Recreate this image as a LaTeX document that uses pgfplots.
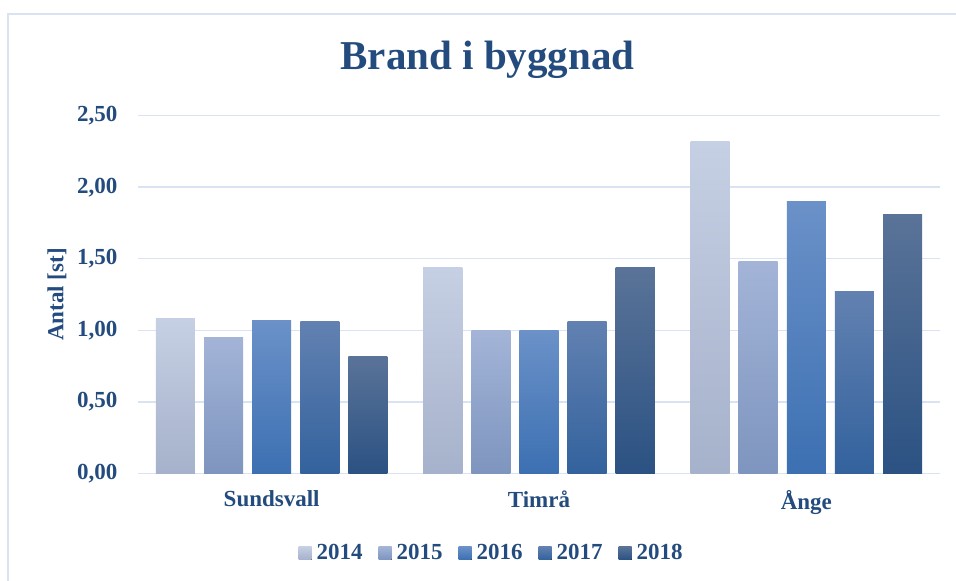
\documentclass[border=0pt]{standalone}
\usepackage{pgfplots}
\pgfplotsset{compat=1.18}
\usepackage{fontspec}
\setmainfont{Liberation Serif}
\definecolor{txt}{RGB}{35,75,125}
\definecolor{gridc}{RGB}{217,227,242}
\definecolor{aT}{RGB}{197,208,228}\definecolor{aM}{RGB}{187,199,223}\definecolor{aB}{RGB}{166,177,203}
\definecolor{bT}{RGB}{163,180,215}\definecolor{bM}{RGB}{147,169,211}\definecolor{bB}{RGB}{126,149,191}
\definecolor{cT}{RGB}{107,145,200}\definecolor{cM}{RGB}{74,130,196}\definecolor{cB}{RGB}{60,112,178}
\definecolor{dT}{RGB}{98,129,177}\definecolor{dM}{RGB}{70,115,172}\definecolor{dB}{RGB}{51,98,157}
\definecolor{eT}{RGB}{90,115,152}\definecolor{eM}{RGB}{63,98,146}\definecolor{eB}{RGB}{43,82,131}
\pgfplotsset{
  gradlegend/.style={legend image code/.code={\fill[##1,draw=none] (0pt,-6.5pt) rectangle (13pt,6.5pt);}},
  barbase/.style={ybar, bar width=0.146, draw=none, forget plot},
  sA/.style={barbase, bar shift=-0.36, top color=aT, middle color=aM, bottom color=aB},
  sB/.style={barbase, bar shift=-0.18, top color=bT, middle color=bM, bottom color=bB},
  sC/.style={barbase, bar shift=0, top color=cT, middle color=cM, bottom color=cB},
  sD/.style={barbase, bar shift=0.18, top color=dT, middle color=dM, bottom color=dB},
  sE/.style={barbase, bar shift=0.36, top color=eT, middle color=eM, bottom color=eB},
}
\begin{document}
\begin{tikzpicture}
\useasboundingbox (0,0) rectangle (956pt,581pt);
\draw[gridc, line width=1.5pt] (8pt,0pt) -- (8pt,567pt) -- (957pt,567pt);
\node[anchor=base, text=txt, font=\fontsize{41}{49}\selectfont\bfseries, inner sep=0pt] at (487.5pt,511pt) {Brand i byggnad};
\begin{axis}[
  scale only axis, width=802pt, height=357.6pt,
  at={(138pt,107.7pt)}, anchor=south west,
  xmin=-0.5, xmax=2.5, ymin=0, ymax=2.5,
  xtick={0,1,2}, xticklabels={Sundsvall,Timrå,Ånge},
  ytick={0,0.5,1,1.5,2,2.5},
  axis line style={draw=none},
  major tick length=0pt,
  ymajorgrids, grid style={gridc, line width=1.5pt},
  yticklabel={\pgfmathprintnumber[fixed,fixed zerofill,precision=2,use comma,assume math mode=true]{\tick}},
  ticklabel style={font=\fontsize{23}{27}\selectfont\bfseries, text=txt},
  yticklabel style={xshift=-17pt},
  xticklabel style={yshift=-14pt},
  ylabel={Antal [st]},
  ylabel style={at={(axis description cs:-0.101,0.5)}, anchor=center, font=\fontsize{23}{27}\selectfont\bfseries, text=txt},
  legend columns=5,
  legend style={at={(0.441,-0.223)}, anchor=center, draw=none, fill=none,
    font=\fontsize{23}{27}\selectfont\bfseries, text=txt,
    /tikz/every odd column/.append style={column sep=3pt},
    /tikz/every even column/.append style={column sep=14pt}},
  gradlegend,
]
\addlegendimage{top color=aT, middle color=aM, bottom color=aB}\addlegendentry{2014}
\addlegendimage{top color=bT, middle color=bM, bottom color=bB}\addlegendentry{2015}
\addlegendimage{top color=cT, middle color=cM, bottom color=cB}\addlegendentry{2016}
\addlegendimage{top color=dT, middle color=dM, bottom color=dB}\addlegendentry{2017}
\addlegendimage{top color=eT, middle color=eM, bottom color=eB}\addlegendentry{2018}
% 2014
\addplot[sA] coordinates {(0,1.08)};
\addplot[sA] coordinates {(1,1.44)};
\addplot[sA] coordinates {(2,2.32)};
% 2015
\addplot[sB] coordinates {(0,0.95)};
\addplot[sB] coordinates {(1,1.00)};
\addplot[sB] coordinates {(2,1.48)};
% 2016
\addplot[sC] coordinates {(0,1.07)};
\addplot[sC] coordinates {(1,1.00)};
\addplot[sC] coordinates {(2,1.90)};
% 2017
\addplot[sD] coordinates {(0,1.06)};
\addplot[sD] coordinates {(1,1.06)};
\addplot[sD] coordinates {(2,1.27)};
% 2018
\addplot[sE] coordinates {(0,0.82)};
\addplot[sE] coordinates {(1,1.44)};
\addplot[sE] coordinates {(2,1.81)};
\end{axis}
\end{tikzpicture}
\end{document}
